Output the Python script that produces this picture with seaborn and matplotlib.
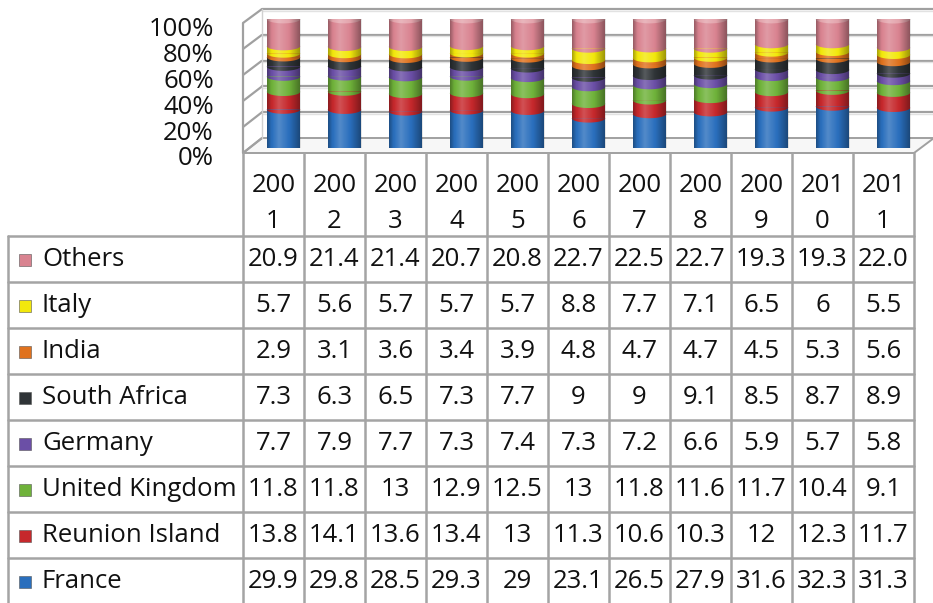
import numpy as np
import pandas as pd
import matplotlib
matplotlib.use("Agg")
import matplotlib.pyplot as plt
from matplotlib.patches import Polygon, PathPatch, Rectangle
from matplotlib.path import Path
import seaborn as sns

# ---- data -------------------------------------------------------------
years = ["2001", "2002", "2003", "2004", "2005", "2006",
         "2007", "2008", "2009", "2010", "2011"]
countries = ["Others", "Italy", "India", "South Africa", "Germany",
             "United Kingdom", "Reunion Island", "France"]
others = ["20.9", "21.4", "21.4", "20.7", "20.8", "22.7", "22.5", "22.7", "19.3", "19.3", "22.0"]
italy = ["5.7", "5.6", "5.7", "5.7", "5.7", "8.8", "7.7", "7.1", "6.5", "6", "5.5"]
india = ["2.9", "3.1", "3.6", "3.4", "3.9", "4.8", "4.7", "4.7", "4.5", "5.3", "5.6"]
south_africa = ["7.3", "6.3", "6.5", "7.3", "7.7", "9", "9", "9.1", "8.5", "8.7", "8.9"]
germany = ["7.7", "7.9", "7.7", "7.3", "7.4", "7.3", "7.2", "6.6", "5.9", "5.7", "5.8"]
united_kingdom = ["11.8", "11.8", "13", "12.9", "12.5", "13", "11.8", "11.6", "11.7", "10.4", "9.1"]
reunion_island = ["13.8", "14.1", "13.6", "13.4", "13", "11.3", "10.6", "10.3", "12", "12.3", "11.7"]
france = ["29.9", "29.8", "28.5", "29.3", "29", "23.1", "26.5", "27.9", "31.6", "32.3", "31.3"]
y_ticks = [0, 20, 40, 60, 80, 100]

table_text = {
    "Others": others, "Italy": italy, "India": india,
    "South Africa": south_africa, "Germany": germany,
    "United Kingdom": united_kingdom, "Reunion Island": reunion_island,
    "France": france,
}

colors = {
    "Others": "#d98390",
    "Italy": "#f2e80c",
    "India": "#e0721e",
    "South Africa": "#2f3437",
    "Germany": "#6b4fa6",
    "United Kingdom": "#6fb23a",
    "Reunion Island": "#c6282c",
    "France": "#2a6fbd",
}
top_color = "#e4a5ad"

df = pd.DataFrame({c: [float(v) for v in table_text[c]] for c in countries}, index=years)
stack = list(reversed(countries))          # bottom of cylinder first
cum = df[stack].cumsum(axis=1)

# ---- figure / pixel helpers --------------------------------------------
sns.set_theme(style="white")
plt.rcParams["font.family"] = ["Open Sans", "DejaVu Sans"]

W, H = 933, 603
fig = plt.figure(figsize=(W / 100, H / 100), dpi=100)
fig.patch.set_facecolor("white")


def box(x0, y0, x1, y1):
    return [x0 / W, 1 - y1 / H, (x1 - x0) / W, (y1 - y0) / H]


ax_px = fig.add_axes([0, 0, 1, 1])
ax_px.set_xlim(0, W)
ax_px.set_ylim(H, 0)
ax_px.axis("off")

FS = 18.5
FW = "medium"
TXT = "#111111"
grid_c = "#a0a0a0"
line_c = "#a4a4a4"

# ---- 3-D frame: left wall, back wall gridlines, floor -----------------------
xf, xb, xr_b, xr_f = 243, 262, 934, 914
front_y = [153 - k * 26 for k in range(6)]
back_y = [138 - k * 25.8 for k in range(6)]
for k, (yf, yb) in enumerate(zip(front_y, back_y)):
    ax_px.plot([xf, xb], [yf, yb], color=grid_c, lw=1.6, solid_capstyle="butt")
    if k > 0:
        ax_px.plot([xb, xr_b], [yb, yb], color=grid_c, lw=1.6)
        ax_px.plot([xb, xr_b], [yb + 1.6, yb + 1.6], color="#e2e2e2", lw=1.0)
ax_px.plot([xf, xf], [front_y[-1], front_y[0]], color=grid_c, lw=1.6)
ax_px.plot([xb, xb], [back_y[-1], back_y[0]], color="#d0d0d0", lw=1.0)
floor = Polygon([[xf, 153], [xb, 138], [xr_b, 138], [xr_f, 153]], closed=True,
                facecolor="#f7f7f7", edgecolor=grid_c, lw=1.4)
ax_px.add_patch(floor)

# ---- data table -----------------------------------------------------------
col0, colw = 243, 61
row0, rowh = 236, 46
n = len(years)
for k in range(n + 1):
    ax_px.plot([col0 + k * colw] * 2, [153, 604], color=line_c, lw=1.8)
ax_px.plot([8, 8], [row0, 604], color=line_c, lw=1.8)
for i in range(len(countries) + 1):
    ax_px.plot([8, col0 + n * colw], [row0 + i * rowh] * 2, color=line_c, lw=1.8)

for j, yr in enumerate(years):
    cx = col0 + colw * (j + 0.5)
    ax_px.text(cx, 185, yr[:3], ha="center", va="center", fontsize=FS,
               fontweight=FW, color=TXT)
    ax_px.text(cx, 221, yr[3:], ha="center", va="center", fontsize=FS,
               fontweight=FW, color=TXT)

for i, c in enumerate(countries):
    cy = row0 + rowh * (i + 0.5)
    ax_px.add_patch(Rectangle((19, cy - 5), 12, 12, facecolor=colors[c],
                              edgecolor="#555555", lw=0.4))
    ax_px.text(42, cy + 1, c, ha="left", va="center", fontsize=FS,
               fontweight=FW, color=TXT)
    for j in range(n):
        cx = col0 + colw * (j + 0.5)
        ax_px.text(cx, cy + 1, table_text[c][j], ha="center", va="center",
                   fontsize=FS, fontweight=FW, color=TXT)

# ---- percent axis labels ------------------------------------------------------
ax_tick = fig.add_axes(box(243, 27, 262, 156))
ax_tick.set_ylim(0, 100)
ax_tick.set_yticks(y_ticks)
ax_tick.set_yticklabels([f"{t}%" for t in y_ticks], fontsize=FS,
                        fontweight=FW, color=TXT)
ax_tick.set_xticks([])
ax_tick.tick_params(axis="y", length=0, pad=21)
ax_tick.patch.set_alpha(0)
for s in ax_tick.spines.values():
    s.set_visible(False)

# ---- stacked cylinders --------------------------------------------------------
ax_bar = fig.add_axes(box(253, 19, 924, 148))
ax_bar.set_zorder(3)
ax_bar.patch.set_alpha(0)
bw = 0.55
for c in reversed(stack):
    sns.barplot(x=years, y=cum[c].values, color=colors[c], saturation=1,
                width=bw, errorbar=None, linewidth=0, ax=ax_bar, zorder=2)

d = 3.4  # half-height of the elliptical caps in data units
t_low = np.linspace(np.pi, 2 * np.pi, 40)
t_full = np.linspace(0, 2 * np.pi, 80)
for i, c in enumerate(stack):
    bottoms = (cum[c] - df[c]).values
    for j in range(n):
        xs = j + bw / 2 * np.cos(t_low)
        ys = bottoms[j] + d * np.sin(t_low)
        ax_bar.add_patch(Polygon(np.column_stack([xs, ys]), closed=True,
                                 facecolor=colors[c], edgecolor="none",
                                 zorder=3 + i * 0.01))
for j in range(n):
    top = cum[stack[-1]].values[j]
    ax_bar.add_patch(Polygon(np.column_stack([j + bw / 2 * np.cos(t_full),
                                              top + d * np.sin(t_full)]),
                             closed=True, facecolor=top_color,
                             edgecolor="none", zorder=3.5))

# horizontal shading to give the round look
u = np.linspace(0, 1, 64)
s = np.interp(u, [0, 0.12, 0.35, 0.65, 1.0], [-0.55, -0.05, 0.35, 0.0, -0.7])
grad = np.zeros((1, len(u), 4))
grad[0, s > 0, :3] = 1.0
grad[0, :, 3] = np.where(s > 0, s * 0.55, -s * 0.55)
for j in range(n):
    top = cum[stack[-1]].values[j]
    xl, xr = j - bw / 2, j + bw / 2
    low = np.column_stack([j + bw / 2 * np.cos(t_low), d * np.sin(t_low)])
    up = np.column_stack([j + bw / 2 * np.cos(np.linspace(0, np.pi, 40)),
                          top + d * np.sin(np.linspace(0, np.pi, 40))])
    verts = np.vstack([low, [[xr, top]], up, [[xl, 0]], low[:1]])
    clip = PathPatch(Path(verts), transform=ax_bar.transData,
                     facecolor="none", edgecolor="none")
    ax_bar.add_patch(clip)
    im = ax_bar.imshow(grad, extent=[xl, xr, -5, top + 5], aspect="auto",
                       zorder=4, interpolation="bilinear")
    im.set_clip_path(clip)

ax_bar.set_xlim(-0.5, n - 0.5)
ax_bar.set_ylim(0, 100)
ax_bar.axis("off")

fig.savefig("out.png", dpi=100, facecolor="white")
